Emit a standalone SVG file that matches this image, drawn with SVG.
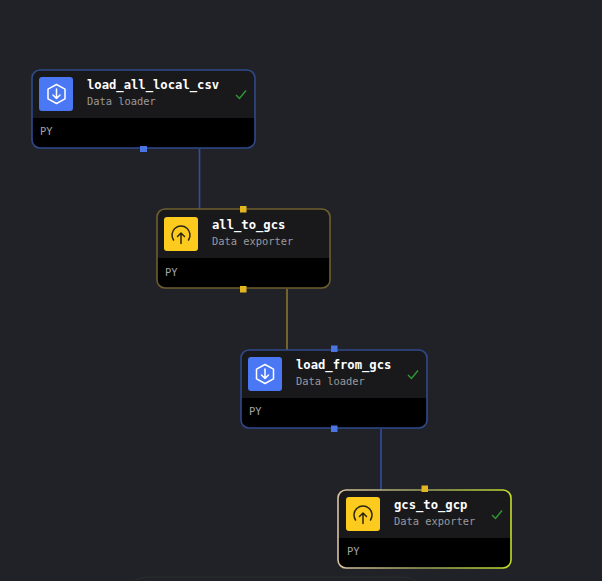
<svg xmlns="http://www.w3.org/2000/svg" width="602" height="581" viewBox="0 0 602 581">
<style>
.head{fill:#19191c}
.foot{fill:#000}
.t{font:bold 12.2px "DejaVu Sans Mono",monospace;fill:#fff}
.s{font:10.4px "DejaVu Sans Mono",monospace;fill:#9a9a9c}
.py{font:10.4px "DejaVu Sans Mono",monospace;fill:#a5a5a8}
.blue{stroke:#2f4a8c}
.gold{stroke:#6d5f2d}
.frame{fill:none;stroke-width:1.6}
.ico{fill:none;stroke-width:1.5;stroke-linecap:round;stroke-linejoin:round}
.check{fill:none;stroke:#2f9a2f;stroke-width:1.4}
.pb{fill:#4a74df}
.py-p{fill:#e3b520}
</style>
<defs>
<clipPath id="c1"><rect x="32" y="70" width="223" height="78" rx="8"/></clipPath>
<clipPath id="c2"><rect x="157" y="209" width="173" height="79" rx="8"/></clipPath>
<clipPath id="c3"><rect x="241" y="350" width="186" height="78" rx="8"/></clipPath>
<clipPath id="c4"><rect x="338" y="490" width="173" height="78" rx="8"/></clipPath>
<linearGradient id="g4" x1="0" x2="1" y1="0" y2="0"><stop offset="0" stop-color="#d8c3a0"/><stop offset="0.5" stop-color="#9aa05a"/><stop offset="1" stop-color="#c3dc2c"/></linearGradient>
<g id="down"><path d="M0-9.500L8.500-4.800V4.800L0 9.500L-8.500 4.800V-4.800Z"/><path d="M0-5V4.500M-3.500 1L0 4.500L3.500 1"/></g>
<g id="up"><path d="M-7.500 5A9 9 0 1 1 7.500 5"/><path d="M0 8.500V-2M-3.500 1.500L0-2L3.500 1.500"/></g>
<path id="ok" d="M-5 1L-1.500 4.500L5-3.500"/>
</defs>
<rect width="602" height="581" fill="#212227"/>
<path d="M135 581Q138 577 150 577H400Q412 577 415 581" fill="none" stroke="#2b2c31"/>
<g id="connectors" fill="none" stroke-width="1.6">
<path d="M199.500 149V209" stroke="#2f4f9f"/>
<path d="M287 289V350" stroke="#8a7430"/>
<path d="M381 429V490" stroke="#2f4f9f"/>
</g>
<g id="load_all_local_csv">
<g clip-path="url(#c1)"><rect class="head" x="32" y="70" width="223" height="48"/><rect class="foot" x="32" y="118" width="223" height="30"/></g>
<rect class="frame blue" x="32" y="70" width="223" height="78" rx="8"/>
<rect x="39" y="77" width="34" height="34" rx="3" fill="#4a78f5"/>
<use href="#down" x="56.500" y="94" class="ico" stroke="#fff"/>
<text class="t" x="87" y="89">load_all_local_csv</text>
<text class="s" x="87" y="105">Data loader</text>
<use href="#ok" x="241" y="94" class="check"/>
<text class="py" x="40" y="135">PY</text>
<rect class="pb" x="140" y="146" width="7" height="6"/>
</g>
<g id="all_to_gcs">
<g clip-path="url(#c2)"><rect class="head" x="157" y="209" width="173" height="49"/><rect class="foot" x="157" y="258" width="173" height="30"/></g>
<rect class="frame gold" x="157" y="209" width="173" height="79" rx="8"/>
<rect x="164" y="217" width="34" height="34" rx="3" fill="#fccb1e"/>
<use href="#up" x="181" y="235" class="ico" stroke="#2b2410"/>
<text class="t" x="212" y="229">all_to_gcs</text>
<text class="s" x="212" y="245">Data exporter</text>
<text class="py" x="165" y="276">PY</text>
<rect class="py-p" x="240" y="206" width="6.500" height="6.500"/>
<rect class="py-p" x="240" y="286" width="6.500" height="6.500"/>
</g>
<g id="load_from_gcs">
<g clip-path="url(#c3)"><rect class="head" x="241" y="350" width="186" height="48"/><rect class="foot" x="241" y="398" width="186" height="30"/></g>
<rect class="frame blue" x="241" y="350" width="186" height="78" rx="8"/>
<rect x="248" y="357" width="34" height="34" rx="3" fill="#4a78f5"/>
<use href="#down" x="265" y="374" class="ico" stroke="#fff"/>
<text class="t" x="296" y="369">load_from_gcs</text>
<text class="s" x="296" y="385">Data loader</text>
<use href="#ok" x="413" y="374" class="check"/>
<text class="py" x="249" y="415">PY</text>
<rect class="pb" x="331" y="345.500" width="6.500" height="6.500"/>
<rect class="pb" x="331" y="425.500" width="6.500" height="6.500"/>
</g>
<g id="gcs_to_gcp">
<g clip-path="url(#c4)"><rect class="head" x="338" y="490" width="173" height="48"/><rect class="foot" x="338" y="538" width="173" height="30"/></g>
<rect class="frame" x="338" y="490" width="173" height="78" rx="8" stroke="url(#g4)"/>
<rect x="346" y="497" width="34" height="34" rx="3" fill="#fccb1e"/>
<use href="#up" x="363" y="515" class="ico" stroke="#2b2410"/>
<text class="t" x="394" y="509">gcs_to_gcp</text>
<text class="s" x="394" y="525">Data exporter</text>
<use href="#ok" x="497" y="514" class="check"/>
<text class="py" x="347" y="555">PY</text>
<rect class="py-p" x="421.500" y="485.500" width="6.500" height="6.500"/>
</g>
</svg>
